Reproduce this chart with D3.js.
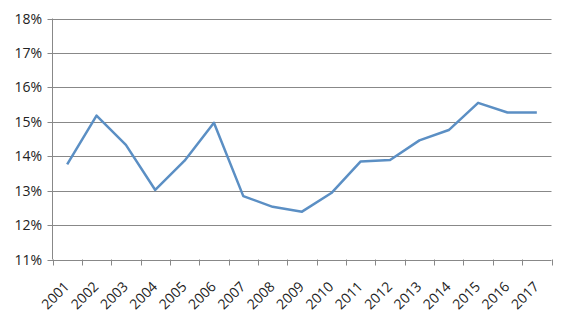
<!DOCTYPE html>
<html><head><meta charset="utf-8">
<script src="https://cdn.jsdelivr.net/npm/d3@7"></script>
<style>html,body{margin:0;padding:0;background:#fff;}svg{display:block;}</style>
</head><body>
<script>
const years = ["2001","2002","2003","2004","2005","2006","2007","2008","2009","2010","2011","2012","2013","2014","2015","2016","2017"];
const values = [13.76,15.18,14.33,13.02,13.87,14.97,12.84,12.53,12.39,12.93,13.85,13.89,14.46,14.76,15.55,15.27,15.27];
const yTicks = [11,12,13,14,15,16,17,18];

const W = 572, H = 324;
const m = {left:52.5, right:20.5, top:18.5, bottom:65};
const svg = d3.select("body").append("svg").attr("width", W).attr("height", H);

const x = d3.scaleBand().domain(years).range([m.left, W - m.right]);
const y = d3.scaleLinear().domain([11,18]).range([259.5, m.top]);
const font = "'Open Sans', sans-serif";
const grey = "#888";

// gridlines
svg.append("g").selectAll("line").data(yTicks).join("line")
  .attr("x1", m.left - 5).attr("x2", W - m.right)
  .attr("y1", d => Math.round(y(d)) + 0.5).attr("y2", d => Math.round(y(d)) + 0.5)
  .attr("stroke", grey).attr("stroke-width", 1);

// y axis line
svg.append("line").attr("x1", m.left).attr("x2", m.left)
  .attr("y1", y(18)).attr("y2", y(11)).attr("stroke", grey);

// y labels
svg.append("g").selectAll("text").data(yTicks).join("text")
  .attr("x", 42).attr("y", d => y(d)).attr("dy", "0.36em")
  .attr("text-anchor", "end").attr("font-family", font).attr("font-size", 14)
  .attr("fill", "#222").text(d => d + "%");

// x ticks at band boundaries
const bounds = years.map(d => x(d)).concat([x(years[years.length-1]) + x.bandwidth()]);
svg.append("g").selectAll("line").data(bounds).join("line")
  .attr("x1", d => Math.round(d) + 0.5).attr("x2", d => Math.round(d) + 0.5)
  .attr("y1", y(11)).attr("y2", y(11) + 6).attr("stroke", grey);

// x labels
svg.append("g").selectAll("text").data(years).join("text")
  .attr("transform", d => `translate(${x(d) + x.bandwidth()/2 + 3},${y(11) + 28}) rotate(-45)`)
  .attr("text-anchor", "end")
  .attr("font-family", font).attr("font-size", 14).attr("fill", "#222")
  .text(d => d);

// line
const line = d3.line().x((d,i) => x(years[i]) + x.bandwidth()/2).y(d => y(d));
svg.append("path").datum(values).attr("d", line)
  .attr("fill", "none").attr("stroke", "#5b8fc4").attr("stroke-width", 2.5)
  .attr("stroke-linejoin", "round");
</script>
</body></html>
